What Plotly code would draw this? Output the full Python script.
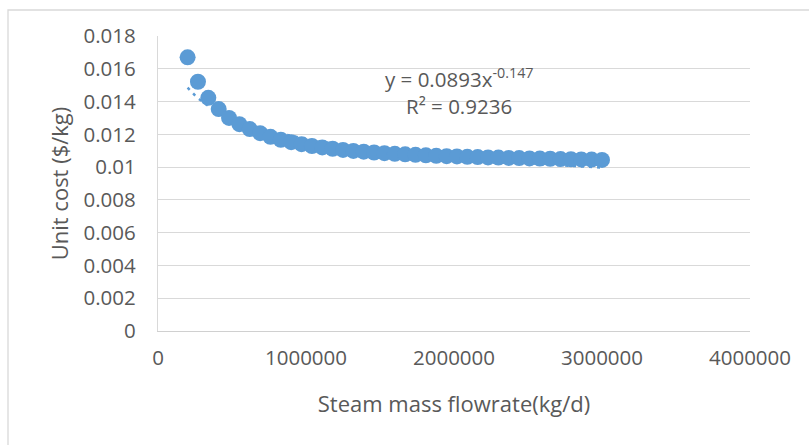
import numpy as np
import plotly.graph_objects as go

# Steam mass flowrate (kg/d)
flow = [200000, 270000, 340000, 410000, 480000, 550000, 620000, 690000, 760000, 830000,
        900000, 970000, 1040000, 1110000, 1180000, 1250000, 1320000, 1390000, 1460000, 1530000,
        1600000, 1670000, 1740000, 1810000, 1880000, 1950000, 2020000, 2090000, 2160000, 2230000,
        2300000, 2370000, 2440000, 2510000, 2580000, 2650000, 2720000, 2790000, 2860000, 2930000,
        3000000]
# Unit cost ($/kg)
unit_cost = [0.01670, 0.01521, 0.01423, 0.01354, 0.01300, 0.01262, 0.01232, 0.01207, 0.01185, 0.01167,
             0.01152, 0.01140, 0.01129, 0.01120, 0.01112, 0.01105, 0.01099, 0.01094, 0.01089, 0.01085,
             0.01081, 0.01078, 0.01075, 0.01072, 0.01069, 0.01067, 0.01065, 0.01063, 0.01061, 0.01059,
             0.01058, 0.01056, 0.01055, 0.01053, 0.01052, 0.01051, 0.01049, 0.01048, 0.01047, 0.01046,
             0.01044]

# Power trendline shown on the chart: y = 0.0893 x^-0.147
trend_a = 0.0893
trend_b = -0.147

x_tickvals = [0, 1000000, 2000000, 3000000, 4000000]
x_ticktext = ["0", "1000000", "2000000", "3000000", "4000000"]
y_tickvals = [0, 0.002, 0.004, 0.006, 0.008, 0.01, 0.012, 0.014, 0.016, 0.018]
y_ticktext = ["0", "0.002", "0.004", "0.006", "0.008", "0.01", "0.012", "0.014", "0.016", "0.018"]

BLUE = "#5B9BD5"
TXT = "#595959"
GRID = "#D9D9D9"
FONT = "Open Sans"

tx = np.linspace(min(flow), max(flow), 300)
ty = trend_a * tx ** trend_b

fig = go.Figure()
fig.add_trace(go.Scatter(x=tx, y=ty, mode="lines",
                         line=dict(color=BLUE, width=2.5, dash="3px,5px"),
                         hoverinfo="skip", showlegend=False))
fig.add_trace(go.Scatter(x=flow, y=unit_cost, mode="markers",
                         marker=dict(color=BLUE, size=16, line=dict(width=0)),
                         showlegend=False))

W, H = 809, 445
L, R, T, B = 158, 750, 36, 331

fig.update_layout(
    width=W, height=H,
    margin=dict(l=L, r=W - R, t=T, b=H - B),
    paper_bgcolor="white", plot_bgcolor="white",
    font=dict(family=FONT, color=TXT, size=20),
    showlegend=False,
)
fig.update_xaxes(
    range=[0, 4000000], tickvals=x_tickvals, ticktext=x_ticktext,
    showgrid=False, zeroline=False,
    showline=True, linecolor="#D0D0D0", linewidth=1.3,
    ticks="", ticklabelstandoff=8,
    tickfont=dict(family=FONT, color=TXT, size=20.5),
    title=dict(text="Steam mass flowrate(kg/d)", font=dict(family=FONT, color=TXT, size=22), standoff=26),
)
fig.update_yaxes(
    range=[0, 0.018], tickvals=y_tickvals, ticktext=y_ticktext,
    showgrid=True, gridcolor=GRID, gridwidth=1.3, zeroline=False,
    showline=True, linecolor=GRID, linewidth=1.3,
    ticks="", ticklabelstandoff=17,
    tickfont=dict(family=FONT, color=TXT, size=20.5),
    title=dict(text="Unit cost ($/kg)", font=dict(family=FONT, color=TXT, size=22), standoff=8),
)

def px_x(p):
    return (p - L) / (R - L)

def px_y(p):
    return (B - p) / (B - T)

fig.add_annotation(xref="paper", yref="paper", x=px_x(459), y=px_y(78),
                   text="y = 0.0893x<sup>-0.147</sup>", showarrow=False,
                   font=dict(family=FONT, color=TXT, size=20.5), xanchor="center", yanchor="middle")
fig.add_annotation(xref="paper", yref="paper", x=px_x(459), y=px_y(106),
                   text="R² = 0.9236", showarrow=False,
                   font=dict(family=FONT, color=TXT, size=20.5), xanchor="center", yanchor="middle")

# chart frame
fig.add_shape(type="rect", xref="paper", yref="paper",
              x0=px_x(8), x1=px_x(W + 20), y0=px_y(H + 20), y1=px_y(10),
              line=dict(color=GRID, width=1.3), fillcolor="rgba(0,0,0,0)", layer="below")

fig.write_html("out.html")
